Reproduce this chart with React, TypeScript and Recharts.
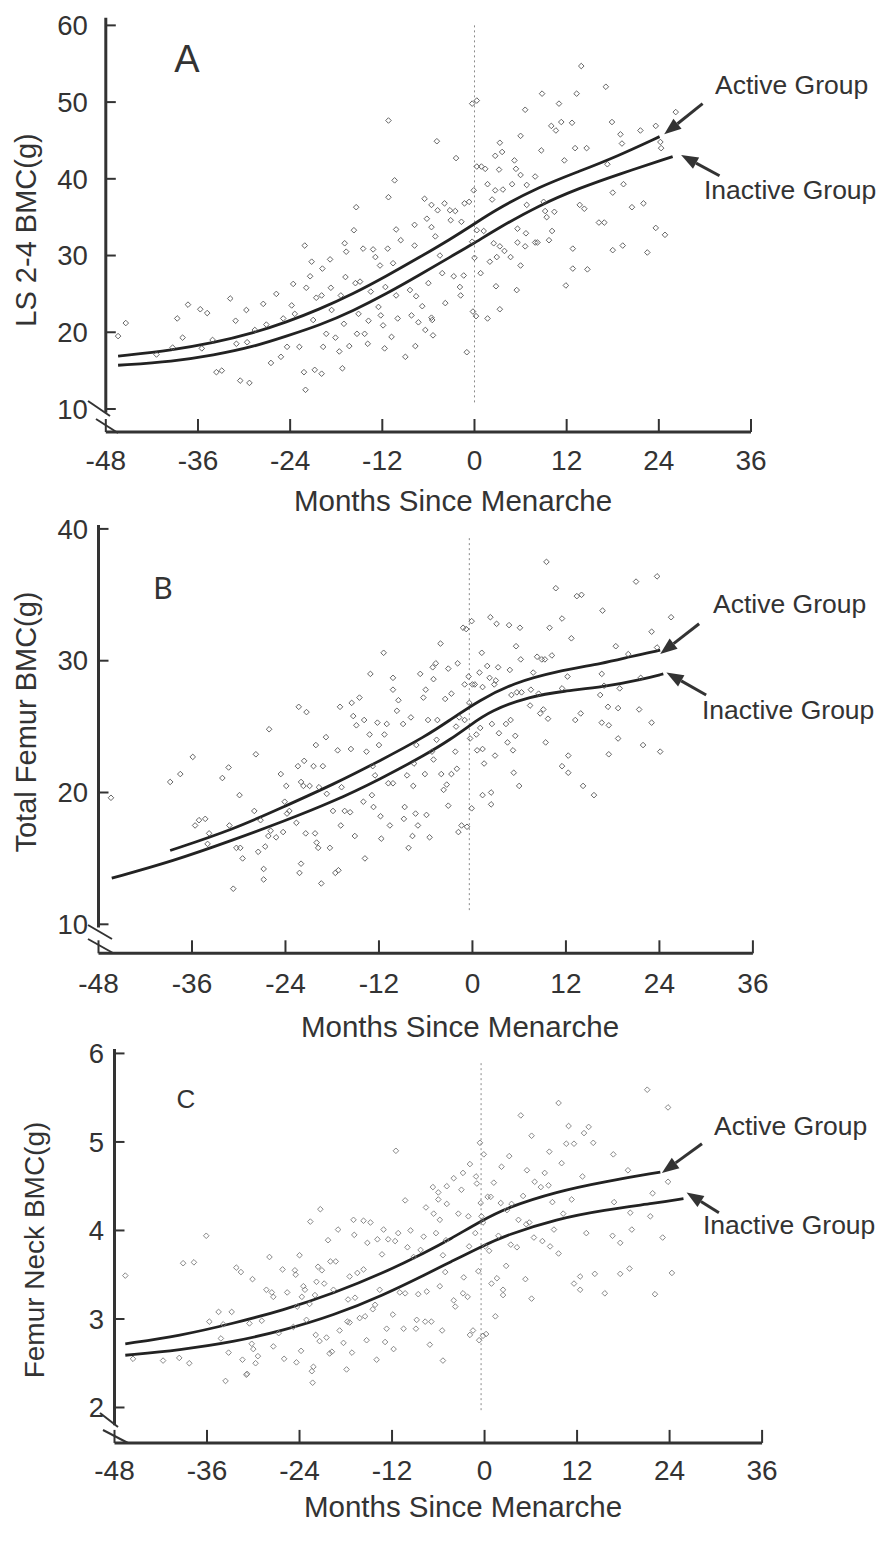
import React from "react";
import { ComposedChart, Scatter, Line, XAxis, YAxis, ReferenceLine } from "recharts";

type Pair = [number, number];

const monthTicks = [-48, -36, -24, -12, 0, 12, 24, 36];

// Panel A: LS 2-4 BMC
const lsTicks = [10, 20, 30, 40, 50, 60];
const lsActive: Pair[] = [
  [-46.4, 16.9], [-39.2, 17.7], [-34.0, 18.6], [-28.8, 19.9], [-24.5, 21.3], [-20.2, 23.0],
  [-15.8, 25.0], [-11.5, 27.3], [-7.1, 29.8], [-3.2, 32.1], [-0.2, 34.0], [2.8, 36.0],
  [8.5, 39.0], [13.7, 41.0], [18.5, 42.9], [24.1, 45.5],
];
const lsInactive: Pair[] = [
  [-46.4, 15.7], [-39.2, 16.2], [-34.0, 17.0], [-28.8, 18.1], [-24.5, 19.5], [-20.2, 20.9],
  [-15.8, 22.8], [-11.5, 25.0], [-7.1, 27.5], [-3.2, 29.8], [-0.2, 31.5], [2.8, 33.4],
  [8.5, 36.6], [13.7, 38.8], [18.5, 40.5], [25.8, 42.9],
];
const lsPoints: Pair[] = [
  [-46.4, 19.5], [-45.4, 21.2], [-41.4, 17.1], [-39.3, 18.0], [-38.7, 21.8], [-38.0, 19.3], [-37.3, 23.6],
  [-35.7, 23.0], [-34.8, 22.5], [-35.5, 17.9], [-34.1, 19.0], [-33.6, 14.8], [-32.9, 15.0], [-31.8, 24.4],
  [-31.1, 21.5], [-31.0, 18.5], [-30.5, 13.7], [-29.7, 22.9], [-29.6, 18.7], [-29.3, 13.4], [-28.6, 20.3],
  [-27.5, 23.7], [-27.1, 21.0], [-26.5, 16.0], [-25.8, 25.0], [-25.2, 16.8], [-24.9, 21.8], [-24.4, 18.1],
  [-23.8, 23.5], [-23.6, 26.3], [-23.4, 22.4], [-22.8, 18.1], [-22.2, 14.8], [-22.1, 31.3], [-22.0, 12.5],
  [-21.9, 25.8], [-21.4, 27.3], [-21.2, 29.2], [-21.0, 21.6], [-20.8, 15.1], [-20.6, 24.5], [-19.9, 14.6],
  [-19.9, 24.8], [-19.8, 28.3], [-19.7, 18.1], [-19.3, 19.8], [-18.8, 29.5], [-18.7, 25.8], [-18.6, 22.9],
  [-18.1, 19.3], [-17.6, 17.5], [-17.4, 24.8], [-17.2, 15.3], [-17.0, 21.1], [-16.9, 31.6], [-16.8, 27.2],
  [-16.7, 30.5], [-16.3, 18.2], [-15.7, 33.3], [-15.5, 26.4], [-15.4, 36.3], [-15.3, 19.8], [-15.1, 22.4],
  [-14.9, 26.6], [-14.5, 30.9], [-14.3, 19.8], [-13.9, 18.5], [-13.8, 21.5], [-13.5, 25.3], [-13.2, 30.8],
  [-12.9, 29.8], [-12.5, 23.3], [-12.3, 28.7], [-12.2, 22.2], [-11.9, 20.9], [-11.7, 17.9], [-11.6, 25.9],
  [-11.2, 47.6], [-11.3, 30.9], [-11.2, 37.6], [-10.8, 19.4], [-10.6, 29.0], [-10.4, 39.8], [-10.2, 24.8],
  [-10.0, 21.8], [-9.6, 32.0], [-10.2, 33.4], [-9.0, 16.8], [-8.4, 25.5], [-8.2, 22.2], [-7.8, 31.3],
  [-7.7, 18.2], [-7.6, 24.7], [-7.8, 34.0], [-7.3, 21.3], [-6.8, 23.4], [-6.5, 37.4], [-6.4, 20.3],
  [-6.2, 34.8], [-6.0, 26.4], [-5.6, 33.7], [-5.5, 21.6], [-5.4, 19.6], [-5.1, 32.5], [-4.9, 44.9],
  [-4.8, 35.9], [-4.5, 30.0], [-4.2, 27.7], [-3.9, 36.8], [-3.8, 23.8], [-5.6, 36.6], [-5.6, 21.9],
  [-3.2, 35.9], [-3.1, 34.6], [-2.5, 35.8], [-2.4, 42.7], [-2.7, 27.3], [-1.9, 25.9], [-1.8, 24.8],
  [-1.7, 34.4], [-1.4, 27.4], [-1.3, 36.8], [-1.0, 17.4], [-0.7, 37.0], [-0.3, 31.8], [-0.3, 49.8],
  [-0.2, 22.7], [-0.1, 38.5], [0.0, 29.7], [0.3, 50.2], [0.3, 41.6], [0.2, 22.1], [0.3, 33.3],
  [0.8, 27.7], [0.9, 41.6], [1.2, 33.2], [1.4, 41.3], [1.7, 39.3], [1.7, 21.8], [2.0, 29.2],
  [2.3, 37.3], [2.5, 31.6], [2.7, 38.5], [2.7, 43.0], [2.8, 26.0], [2.9, 29.8], [3.2, 41.2],
  [3.3, 44.7], [3.3, 31.2], [3.3, 23.0], [3.6, 43.5], [3.7, 38.6], [3.9, 30.6], [4.7, 29.8],
  [4.9, 39.3], [5.2, 42.4], [5.4, 41.3], [5.5, 25.5], [5.6, 33.5], [5.6, 31.7], [6.0, 45.6],
  [6.0, 28.7], [6.0, 40.5], [6.6, 49.0], [6.6, 31.2], [6.7, 32.9], [6.8, 39.2], [6.8, 36.6],
  [7.9, 40.3], [7.9, 31.7], [8.2, 31.7], [8.7, 43.7], [8.8, 51.1], [9.0, 37.0], [9.2, 35.8],
  [9.4, 35.0], [9.7, 32.0], [10.0, 46.9], [10.1, 33.2], [10.4, 35.7], [10.6, 46.3], [11.0, 49.8],
  [11.3, 47.4], [11.7, 42.4], [11.9, 26.1], [12.7, 47.3], [12.8, 30.9], [12.8, 28.3], [13.1, 44.0],
  [13.3, 51.1], [13.7, 36.6], [13.9, 54.7], [14.3, 36.1], [14.6, 44.0], [14.7, 28.2], [16.2, 34.3],
  [16.9, 34.3], [17.1, 52.0], [17.3, 41.9], [17.9, 47.4], [18.0, 38.2], [18.0, 30.7], [19.0, 45.8],
  [19.2, 44.6], [19.3, 31.3], [19.4, 39.3], [20.5, 36.3], [21.6, 46.3], [22.0, 36.8], [22.5, 30.4],
  [23.6, 46.9], [23.6, 33.6], [24.2, 44.8], [24.3, 44.0], [24.8, 32.7], [26.2, 48.7],
];

// Panel B: total femur BMC
const tfTicks = [10, 20, 30, 40];
const tfActive: Pair[] = [
  [-38.8, 15.6], [-30.7, 17.2], [-24.3, 18.9], [-17.9, 20.6], [-11.9, 22.4], [-5.9, 24.3],
  [-2.9, 25.5], [0.9, 27.0], [5.2, 28.3], [10.8, 29.2], [16.8, 29.8], [20.2, 30.3], [24.1, 30.8],
];
const tfInactive: Pair[] = [
  [-46.3, 13.5], [-38.4, 14.8], [-30.7, 16.4], [-24.3, 17.8], [-17.9, 19.3], [-11.9, 21.0],
  [-5.9, 22.9], [-2.9, 24.0], [-0.3, 25.1], [2.3, 26.2], [7.4, 27.3], [11.7, 27.7],
  [16.8, 28.0], [21.9, 28.6], [24.5, 29.0],
];
const tfPoints: Pair[] = [
  [-46.4, 19.6], [-38.8, 20.8], [-37.5, 21.4], [-35.9, 22.7], [-35.6, 17.5], [-35.1, 17.9], [-34.3, 18.0],
  [-34.0, 16.1], [-33.8, 16.9], [-32.1, 21.1], [-31.3, 21.9], [-31.2, 17.5], [-30.7, 12.7], [-30.3, 15.8],
  [-29.9, 19.8], [-29.8, 15.8], [-29.5, 15.0], [-28.0, 18.6], [-27.8, 22.9], [-27.5, 15.5], [-27.2, 17.9],
  [-26.8, 13.4], [-26.8, 14.2], [-26.6, 15.9], [-26.2, 16.7], [-26.1, 24.8], [-25.9, 17.1], [-25.2, 16.6],
  [-24.6, 21.4], [-24.3, 17.0], [-24.1, 19.3], [-23.9, 20.5], [-23.8, 18.4], [-23.5, 18.6], [-22.6, 17.7],
  [-22.4, 22.0], [-22.3, 26.5], [-22.2, 13.9], [-22.0, 14.6], [-22.0, 20.8], [-21.7, 20.5], [-21.6, 22.4],
  [-21.4, 16.9], [-21.3, 26.1], [-20.9, 20.5], [-20.4, 22.0], [-20.2, 16.9], [-20.1, 23.6], [-20.0, 16.2],
  [-19.8, 15.8], [-19.7, 20.4], [-19.4, 13.1], [-19.2, 22.0], [-18.8, 24.2], [-18.7, 19.9], [-18.3, 15.8],
  [-17.9, 18.6], [-17.6, 13.9], [-17.3, 23.2], [-17.2, 14.1], [-17.0, 26.5], [-16.9, 17.5], [-16.8, 20.4],
  [-16.4, 18.6], [-15.7, 18.5], [-15.6, 23.3], [-15.5, 26.8], [-15.3, 25.8], [-15.1, 16.7], [-14.9, 25.1],
  [-14.5, 27.2], [-14.0, 19.3], [-13.9, 25.5], [-13.8, 15.0], [-13.6, 23.1], [-13.2, 24.4], [-13.1, 29.0],
  [-12.9, 19.8], [-12.8, 22.0], [-12.7, 18.9], [-12.5, 21.3], [-12.2, 25.3], [-12.0, 23.6], [-11.8, 18.2],
  [-11.7, 16.5], [-11.4, 30.6], [-11.3, 24.4], [-11.0, 25.2], [-10.8, 20.7], [-10.6, 17.5], [-10.2, 28.7],
  [-10.2, 20.7], [-10.2, 27.8], [-9.7, 26.2], [-9.5, 27.0], [-8.9, 25.2], [-8.8, 18.0], [-8.7, 18.9],
  [-8.4, 21.3], [-8.2, 15.8], [-7.9, 25.7], [-7.7, 16.7], [-7.6, 20.5], [-7.5, 22.2], [-7.3, 18.4],
  [-7.2, 23.6], [-7.0, 17.5], [-6.7, 29.0], [-6.3, 27.2], [-6.1, 21.4], [-6.0, 27.8], [-5.9, 18.3],
  [-5.7, 25.5], [-5.5, 16.6], [-5.2, 23.1], [-5.1, 29.5], [-5.0, 28.6], [-5.0, 22.5], [-4.7, 29.8],
  [-4.5, 25.5], [-4.1, 31.3], [-4.0, 21.4], [-3.7, 20.2], [-3.5, 27.1], [-3.1, 29.4], [-3.1, 19.0],
  [-4.6, 24.0], [-3.3, 20.6], [-2.7, 27.5], [-2.7, 21.4], [-2.2, 23.1], [-2.1, 25.0], [-2.0, 21.8],
  [-1.9, 29.8], [-1.8, 17.0], [-1.7, 25.7], [-1.4, 17.5], [-1.2, 32.5], [-1.0, 28.2], [-1.0, 25.5],
  [-0.8, 32.4], [-0.7, 17.4], [-0.5, 28.8], [-0.4, 26.8], [-0.3, 24.1], [-0.1, 33.0], [-0.1, 18.8],
  [0.0, 28.2], [0.3, 28.2], [0.5, 24.4], [0.6, 23.2], [0.9, 29.1], [1.0, 24.9], [1.2, 30.6],
  [1.3, 28.0], [1.3, 23.3], [1.3, 19.8], [1.5, 22.2], [1.9, 29.6], [2.2, 28.7], [2.3, 33.3],
  [2.4, 20.0], [2.4, 19.1], [2.5, 25.2], [2.8, 28.2], [2.9, 22.8], [3.0, 28.5], [3.1, 32.8],
  [3.3, 29.5], [3.4, 24.5], [4.3, 25.2], [4.5, 23.8], [4.7, 32.7], [4.8, 29.3], [4.9, 25.5],
  [5.0, 27.4], [5.2, 23.2], [5.3, 21.5], [5.5, 24.3], [5.6, 31.1], [5.7, 27.6], [6.0, 20.5],
  [6.1, 32.5], [6.2, 30.1], [6.3, 27.6], [7.4, 26.6], [7.5, 27.8], [7.8, 29.1], [8.3, 30.3],
  [8.5, 27.5], [8.7, 26.0], [8.9, 30.1], [9.1, 26.3], [9.3, 30.1], [9.4, 23.8], [9.5, 37.5],
  [9.7, 25.6], [9.9, 32.5], [10.2, 30.4], [10.7, 35.5], [11.5, 22.0], [11.5, 27.9], [11.5, 33.2],
  [12.2, 28.8], [12.3, 22.8], [12.3, 21.5], [12.7, 31.7], [13.2, 25.5], [13.4, 34.9], [13.9, 26.0],
  [14.0, 35.0], [14.2, 20.5], [15.6, 19.8], [16.4, 27.4], [16.6, 25.3], [16.6, 29.0], [16.7, 33.8],
  [16.9, 28.1], [17.4, 26.5], [17.5, 25.1], [17.5, 22.9], [18.4, 31.1], [18.7, 26.4], [18.7, 24.1],
  [18.9, 27.9], [20.0, 30.5], [21.0, 36.0], [21.4, 26.3], [21.6, 28.7], [21.9, 23.6], [23.0, 32.2],
  [23.0, 25.3], [23.7, 36.4], [23.7, 31.0], [24.1, 23.1], [25.5, 33.3],
];

// Panel C: femur neck BMC
const fnTicks = [2, 3, 4, 5, 6];
const fnActive: Pair[] = [
  [-46.6, 2.72], [-39.5, 2.81], [-32.6, 2.95], [-26.1, 3.1], [-19.6, 3.29], [-13.1, 3.52],
  [-7.5, 3.76], [-4.5, 3.9], [-0.6, 4.1], [2.9, 4.26], [9.4, 4.44], [15.4, 4.55], [22.8, 4.66],
];
const fnInactive: Pair[] = [
  [-46.6, 2.59], [-39.5, 2.65], [-32.6, 2.74], [-26.1, 2.87], [-19.6, 3.04], [-13.1, 3.27],
  [-7.5, 3.51], [-4.5, 3.64], [-0.6, 3.81], [2.9, 3.95], [9.4, 4.13], [15.4, 4.23], [22.3, 4.31],
  [25.8, 4.36],
];
const fnPoints: Pair[] = [
  [-46.6, 3.49], [-45.6, 2.55], [-41.7, 2.53], [-39.6, 2.56], [-39.1, 3.63], [-38.3, 2.5], [-37.7, 3.64],
  [-36.1, 3.94], [-35.7, 2.97], [-34.5, 3.08], [-34.2, 2.78], [-33.9, 2.94], [-33.6, 2.3], [-33.2, 2.62],
  [-32.8, 3.08], [-32.2, 3.58], [-31.6, 3.53], [-31.4, 2.54], [-30.9, 2.37], [-30.8, 2.38], [-30.5, 2.95],
  [-30.2, 2.72], [-30.1, 3.45], [-30.0, 2.66], [-29.7, 2.5], [-29.4, 2.58], [-28.9, 2.98], [-28.3, 3.33],
  [-27.9, 3.7], [-27.6, 3.3], [-27.4, 3.25], [-27.4, 2.69], [-26.7, 2.84], [-26.2, 3.56], [-26.0, 2.55],
  [-25.6, 3.3], [-24.8, 2.91], [-24.6, 3.55], [-24.5, 3.5], [-24.4, 2.51], [-24.3, 3.14], [-24.0, 3.72],
  [-23.8, 2.64], [-23.7, 3.25], [-23.5, 3.37], [-23.3, 3.33], [-23.1, 2.99], [-22.7, 3.17], [-22.6, 4.1],
  [-22.4, 2.41], [-22.3, 2.28], [-22.2, 2.46], [-22.0, 3.27], [-21.9, 2.82], [-21.8, 3.42], [-21.6, 3.59],
  [-21.4, 2.75], [-21.3, 4.24], [-21.1, 3.55], [-20.8, 3.4], [-20.5, 2.79], [-20.3, 3.89], [-20.1, 2.61],
  [-20.0, 3.65], [-19.8, 2.63], [-19.6, 3.33], [-19.3, 3.65], [-19.0, 4.01], [-18.8, 2.87], [-18.3, 2.73],
  [-17.9, 2.43], [-17.8, 2.97], [-17.7, 3.22], [-17.5, 2.96], [-17.5, 3.48], [-17.2, 2.62], [-17.0, 4.12],
  [-16.9, 3.95], [-16.8, 3.24], [-16.5, 3.52], [-16.2, 3.01], [-15.7, 4.11], [-15.7, 3.56], [-15.5, 3.03],
  [-15.3, 2.76], [-15.2, 3.86], [-14.8, 4.09], [-14.5, 3.11], [-14.2, 3.16], [-14.0, 2.54], [-13.9, 3.9],
  [-13.6, 3.33], [-13.3, 3.73], [-13.1, 4.01], [-12.9, 2.74], [-12.7, 2.89], [-12.5, 3.9], [-11.9, 3.05],
  [-11.8, 2.66], [-11.6, 3.88], [-11.5, 4.9], [-11.2, 3.97], [-11.0, 3.3], [-10.5, 2.89], [-10.3, 4.34],
  [-10.3, 3.29], [-10.0, 3.81], [-9.6, 4.0], [-9.2, 3.7], [-8.9, 2.89], [-8.8, 2.99], [-8.6, 3.28],
  [-8.3, 3.78], [-7.9, 3.93], [-7.7, 2.97], [-7.6, 4.26], [-7.5, 3.31], [-7.1, 2.71], [-6.9, 2.97],
  [-6.7, 4.49], [-6.6, 4.19], [-6.3, 3.97], [-6.0, 4.43], [-5.8, 3.37], [-5.5, 2.87], [-5.4, 2.53],
  [-5.1, 3.53], [-4.9, 4.5], [-6.0, 4.35], [-5.8, 4.12], [-5.4, 3.72], [-5.0, 3.89], [-4.9, 4.3],
  [-4.0, 4.59], [-4.0, 3.21], [-3.8, 3.14], [-3.4, 4.19], [-3.0, 4.46], [-2.8, 4.65], [-2.8, 3.29],
  [-2.7, 3.47], [-2.2, 3.25], [-2.1, 4.16], [-2.0, 3.82], [-1.9, 4.75], [-1.9, 2.82], [-1.5, 2.87],
  [-1.2, 3.97], [-1.1, 4.61], [-1.0, 4.53], [-0.8, 3.54], [-0.7, 2.76], [-0.6, 4.99], [-0.5, 4.31],
  [-0.4, 4.16], [-0.2, 4.09], [-0.2, 2.81], [-0.1, 4.86], [0.1, 3.82], [0.2, 2.83], [0.4, 4.38],
  [0.6, 3.77], [0.8, 4.38], [0.9, 3.4], [1.2, 4.54], [1.4, 3.03], [1.6, 3.46], [1.8, 3.94],
  [2.1, 4.31], [2.2, 4.72], [2.4, 3.33], [2.4, 3.27], [2.8, 3.6], [2.9, 4.23], [3.2, 4.84],
  [3.4, 3.84], [3.5, 4.3], [4.2, 3.81], [4.4, 4.12], [4.7, 5.3], [5.0, 4.39], [5.3, 3.45],
  [5.4, 4.07], [5.5, 4.68], [5.8, 4.09], [6.1, 5.07], [6.1, 3.23], [6.4, 3.92], [6.5, 4.55],
  [7.3, 4.49], [7.5, 3.88], [7.8, 4.65], [8.3, 4.51], [8.4, 4.89], [8.5, 3.82], [8.8, 4.32],
  [9.0, 4.01], [9.6, 3.74], [9.6, 5.44], [10.0, 4.76], [10.2, 4.19], [10.6, 4.98], [10.9, 5.18],
  [11.3, 4.35], [11.6, 4.98], [11.6, 3.4], [12.4, 3.48], [12.4, 3.33], [12.7, 4.61], [12.9, 5.1],
  [13.2, 3.97], [13.5, 5.17], [14.1, 4.99], [14.3, 3.51], [15.6, 3.29], [16.6, 3.94], [16.7, 4.86],
  [16.8, 4.32], [17.6, 3.86], [17.6, 3.51], [18.6, 4.68], [18.8, 3.57], [18.9, 4.2], [19.1, 4.01],
  [21.1, 5.59], [21.5, 4.16], [21.8, 4.42], [22.1, 3.28], [23.1, 3.92], [23.8, 4.55], [23.8, 5.39],
  [24.3, 3.52],
];

const toRows = (arr: Pair[]) => arr.map(([x, y]) => ({ x, y }));

const FONT = "'Liberation Sans', Arial, Helvetica, sans-serif";
const INK = "#333";

const makeDiamond = (color: string) => (props: any) => {
  const { cx, cy } = props;
  if (cx == null || cy == null) return <g />;
  const r = 2.8;
  return (
    <path
      d={`M${cx},${cy - r}L${cx + r},${cy}L${cx},${cy + r}L${cx - r},${cy}Z`}
      fill="none"
      stroke={color}
      strokeWidth={0.9}
    />
  );
};

const Arrow = (props: any) => {
  const { x1, y1, x2, y2 } = props;
  const dx = x2 - x1;
  const dy = y2 - y1;
  const len = Math.hypot(dx, dy) || 1;
  const ux = dx / len;
  const uy = dy / len;
  const L = 17;
  const W = 6.5;
  const bx = x2 - ux * L;
  const by = y2 - uy * L;
  return (
    <g>
      <line x1={x1} y1={y1} x2={bx} y2={by} stroke={INK} strokeWidth={3} />
      <polygon
        points={`${x2},${y2} ${bx - uy * W},${by + ux * W} ${bx + uy * W},${by - ux * W}`}
        fill={INK}
      />
    </g>
  );
};

type PanelProps = {
  points: Pair[];
  active: Pair[];
  inactive: Pair[];
  yTicks: number[];
  yDomain: [number, number];
  axisEnd: number;
  zeroLine: [Pair, Pair];
  activeArrow: [Pair, Pair];
  inactiveArrow: [Pair, Pair];
  plot: { left: number; right: number; top: number; bottom: number };
  xTickMargin: number;
  yTickMargin: number;
  dotColor: string;
};

const Panel = (p: PanelProps) => {
  const seg = (s: [Pair, Pair]) => s.map(([x, y]) => ({ x, y }));
  return (
    <div style={{ position: "absolute", left: 0, top: 0 }}>
      <ComposedChart
        width={883}
        height={1560}
        margin={{ top: p.plot.top, right: 883 - p.plot.right, bottom: 1560 - p.plot.bottom - 30, left: 0 }}
      >
        <XAxis
          type="number"
          dataKey="x"
          domain={[-48, 36]}
          ticks={monthTicks}
          interval={0}
          allowDataOverflow
          height={30}
          axisLine={{ stroke: INK, strokeWidth: 3 }}
          tickLine={{ stroke: INK, strokeWidth: 2 }}
          tickSize={-13}
          tickMargin={p.xTickMargin}
          tick={{ fontSize: 28, fill: INK, fontFamily: FONT }}
        />
        <YAxis
          type="number"
          dataKey="y"
          domain={p.yDomain}
          ticks={p.yTicks}
          interval={0}
          allowDataOverflow
          width={p.plot.left}
          axisLine={false}
          tickLine={{ stroke: INK, strokeWidth: 2 }}
          tickSize={-10}
          tickMargin={p.yTickMargin}
          tick={{ fontSize: 27.5, fill: INK, fontFamily: FONT }}
        />
        <ReferenceLine
          segment={[{ x: -48, y: p.yDomain[1] }, { x: -48, y: p.axisEnd }]}
          stroke={INK}
          strokeWidth={3}
        />
        <ReferenceLine segment={seg(p.zeroLine)} stroke="#8a8a8a" strokeWidth={1} strokeDasharray="2 3" />
        <Scatter
          data={toRows(p.points)}
          dataKey="y"
          shape={makeDiamond(p.dotColor)}
          isAnimationActive={false}
        />
        <Line
          data={toRows(p.active)}
          dataKey="y"
          type="basis"
          stroke="#222"
          strokeWidth={2.8}
          dot={false}
          activeDot={false}
          isAnimationActive={false}
        />
        <Line
          data={toRows(p.inactive)}
          dataKey="y"
          type="basis"
          stroke="#222"
          strokeWidth={2.8}
          dot={false}
          activeDot={false}
          isAnimationActive={false}
        />
        <ReferenceLine segment={seg(p.activeArrow)} shape={Arrow} />
        <ReferenceLine segment={seg(p.inactiveArrow)} shape={Arrow} />
      </ComposedChart>
    </div>
  );
};

const Overlay = () => {
  const t = { fontFamily: FONT, fill: INK };
  const slash = (x1: number, y1: number, x2: number, y2: number) => (
    <line x1={x1} y1={y1} x2={x2} y2={y2} stroke={INK} strokeWidth={2} />
  );
  return (
    <svg width={883} height={1560} style={{ position: "absolute", left: 0, top: 0, pointerEvents: "none" }}>
      {/* panel A */}
      <text x={187} y={72} fontSize={38} textAnchor="middle" {...t}>A</text>
      <text transform="translate(36,230) rotate(-90)" fontSize={29} textAnchor="middle" {...t}>LS 2-4 BMC(g)</text>
      <text x={453} y={511} fontSize={29.5} textAnchor="middle" {...t}>Months Since Menarche</text>
      <text x={715} y={94} fontSize={26.5} {...t}>Active Group</text>
      <text x={704} y={199} fontSize={26.5} {...t}>Inactive Group</text>
      {slash(88, 401, 110, 416)}
      {slash(96, 419, 118, 433)}
      {/* panel B */}
      <text x={163} y={599} fontSize={30} textAnchor="middle" fontFamily="Lato, 'Open Sans', sans-serif" fill={INK}>B</text>
      <text transform="translate(36,722) rotate(-90)" fontSize={29} textAnchor="middle" {...t}>Total Femur BMC(g)</text>
      <text x={460} y={1037} fontSize={29.5} textAnchor="middle" {...t}>Months Since Menarche</text>
      <text x={713} y={613} fontSize={26.5} {...t}>Active Group</text>
      <text x={702} y={719} fontSize={26.5} {...t}>Inactive Group</text>
      {slash(88, 925, 112, 939)}
      {slash(88, 939, 113, 953)}
      {/* panel C */}
      <text x={186} y={1108} fontSize={26} textAnchor="middle" {...t}>C</text>
      <text transform="translate(44,1250) rotate(-90)" fontSize={28} textAnchor="middle" {...t}>Femur Neck BMC(g)</text>
      <text x={463} y={1517} fontSize={29.5} textAnchor="middle" {...t}>Months Since Menarche</text>
      <text x={714} y={1135} fontSize={26.5} {...t}>Active Group</text>
      <text x={703} y={1234} fontSize={26.5} {...t}>Inactive Group</text>
      {slash(100, 1413, 118, 1427)}
      {slash(103, 1430, 128, 1443)}
    </svg>
  );
};

export default function App() {
  return (
    <div style={{ position: "absolute", left: 0, top: 0, width: 883, height: 1560, background: "#fff" }}>
      <Panel
        points={lsPoints}
        active={lsActive}
        inactive={lsInactive}
        yTicks={lsTicks}
        yDomain={[7, 61]}
        axisEnd={9.5}
        zeroLine={[[0, 60], [0, 10.8]]}
        activeArrow={[[29.7, 49.8], [24.7, 45.8]]}
        inactiveArrow={[[31.9, 40.4], [26.9, 43.1]]}
        plot={{ left: 105.8, right: 751, top: 17.7, bottom: 432 }}
        xTickMargin={31}
        yTickMargin={28}
        dotColor="#555"
      />
      <Panel
        points={tfPoints}
        active={tfActive}
        inactive={tfInactive}
        yTicks={tfTicks}
        yDomain={[7.8, 40.3]}
        axisEnd={9.75}
        zeroLine={[[-0.4, 39.3], [-0.4, 11]]}
        activeArrow={[[29.1, 32.8], [24.1, 30.5]]}
        inactiveArrow={[[30.0, 27.4], [24.9, 29.1]]}
        plot={{ left: 98.5, right: 752.9, top: 524.95, bottom: 953.3 }}
        xTickMargin={33}
        yTickMargin={20.5}
        dotColor="#555"
      />
      <Panel
        points={fnPoints}
        active={fnActive}
        inactive={fnInactive}
        yTicks={fnTicks}
        yDomain={[1.6, 6.05]}
        axisEnd={1.8}
        zeroLine={[[-0.45, 5.89], [-0.45, 1.95]]}
        activeArrow={[[28.2, 4.98], [23.0, 4.65]]}
        inactiveArrow={[[30.4, 4.2], [26.2, 4.43]]}
        plot={{ left: 114.5, right: 762.1, top: 1049, bottom: 1442.9 }}
        xTickMargin={30}
        yTickMargin={20.5}
        dotColor="#7a7a7a"
      />
      <Overlay />
    </div>
  );
}
